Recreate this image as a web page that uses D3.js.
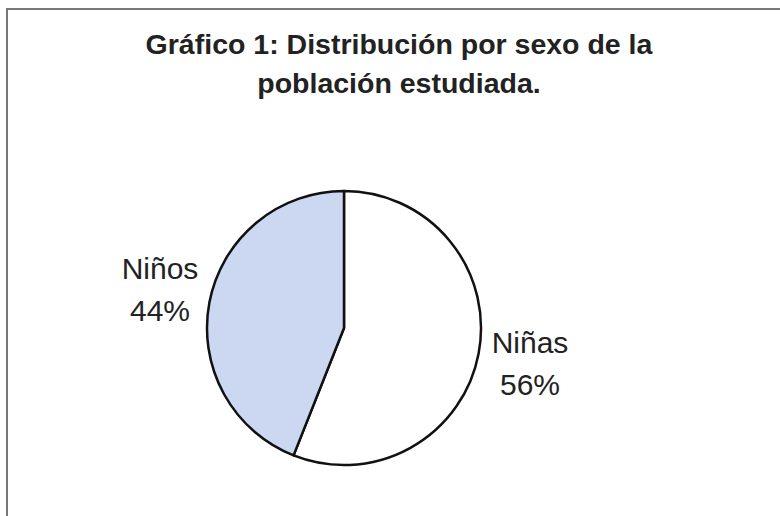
<!DOCTYPE html>
<html>
<head>
<meta charset="utf-8">
<script src="https://cdn.jsdelivr.net/npm/d3@7"></script>
<style>
  html, body { margin: 0; padding: 0; background: #fff; }
  svg { display: block; }
</style>
</head>
<body>
<svg id="chart" width="780" height="516"></svg>
<script>
// Sex distribution of the studied population
const categories = ["Niñas", "Niños"];
const values = [56, 44];
const labels = ["56%", "44%"];
const colors = ["#ffffff", "#ccd7f1"];
const titleLines = ["Gráfico 1: Distribución por sexo de la", "población estudiada."];

const svg = d3.select("#chart");

// Frame (top and left edges visible)
svg.append("path")
  .attr("d", "M7,520 L7,9 L790,9")
  .attr("fill", "none")
  .attr("stroke", "#777")
  .attr("stroke-width", 2);

// Title
const title = svg.append("text")
  .attr("text-anchor", "middle")
  .attr("font-family", "Liberation Sans, Arial, sans-serif")
  .attr("font-weight", "bold")
  .attr("font-size", 28.5)
  .attr("fill", "#222");
title.selectAll("tspan").data(titleLines).join("tspan")
  .attr("x", 399)
  .attr("y", (d, i) => 54 + i * 39)
  .text(d => d);

// Pie
const cx = 344, cy = 328, r = 137;
const pie = d3.pie().sort(null).value(d => d.value);
const arc = d3.arc().innerRadius(0).outerRadius(r);
const data = categories.map((c, i) => ({ name: c, value: values[i], label: labels[i], color: colors[i] }));
const arcs = pie(data);

const g = svg.append("g").attr("transform", `translate(${cx},${cy})`);
g.selectAll("path").data(arcs).join("path")
  .attr("d", arc)
  .attr("fill", d => d.data.color)
  .attr("stroke", "#111")
  .attr("stroke-width", 2.5)
  .attr("stroke-linejoin", "round");

// Outside labels
const labelPos = { "Niñas": [530, 353], "Niños": [160, 279] };
arcs.forEach(a => {
  const [lx, ly] = labelPos[a.data.name];
  const t = svg.append("text")
    .attr("text-anchor", "middle")
    .attr("font-family", "Liberation Sans, Arial, sans-serif")
    .attr("font-size", 30)
    .attr("fill", "#222");
  t.append("tspan").attr("x", lx).attr("y", ly).text(a.data.name);
  t.append("tspan").attr("x", lx).attr("y", ly + 42).text(a.data.label);
});
</script>
</body>
</html>
